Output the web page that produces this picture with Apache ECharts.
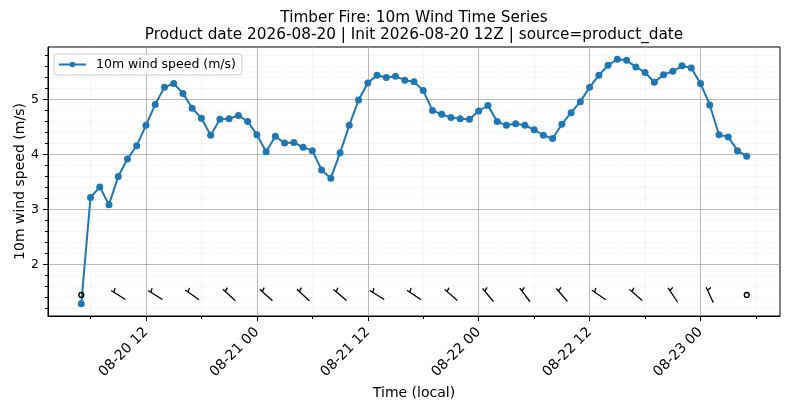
<!DOCTYPE html>
<html>
<head>
<meta charset="utf-8">
<script src="https://cdn.jsdelivr.net/npm/echarts@6/dist/echarts.min.js"></script>
<style>
  html, body { margin: 0; background: #fff; }
  #chart { width: 790px; height: 409px; }
</style>
</head>
<body>
<div id="chart"></div>
<script>
// hourly 10 m wind speed (m/s), first value at 2026-08-20 05:00 local
const firstHour = 5; // hours after 2026-08-20 00:00
const speedAug20 = [1.29, 3.22, 3.41, 3.09, 3.60, 3.92, 4.16, 4.53, 4.91, 5.22, 5.29, 5.11,
                    4.84, 4.66, 4.35, 4.64, 4.65, 4.71, 4.60];
const speedAug21 = [4.36, 4.05, 4.33, 4.21, 4.22, 4.13, 4.07, 3.72, 3.57, 4.03, 4.53, 4.99,
                    5.30, 5.44, 5.40, 5.42, 5.35, 5.32, 5.16, 4.80, 4.73, 4.67, 4.65, 4.64];
const speedAug22 = [4.79, 4.89, 4.60, 4.53, 4.56, 4.53, 4.45, 4.35, 4.29, 4.55, 4.76, 4.96,
                    5.22, 5.44, 5.62, 5.73, 5.71, 5.59, 5.49, 5.31, 5.45, 5.51, 5.61, 5.57];
const speedAug23 = [5.29, 4.90, 4.36, 4.32, 4.07, 3.97];

// wind barbs every 4 hours from the same start, direction the wind comes from (deg); null = calm
const barbStep = 4;
const barbDir = [null, 302, 302, 305, 313, 312, 313, 310, 302, 304, 311, 320, 323, 319,
                 304, 311, 326, 335, null];
const barbLevel = 1.45;

// tick values (hours after 2026-08-20 00:00 / m/s)
const xTicks = [12, 24, 36, 48, 60, 72];
const yTicks = [2, 3, 4, 5];

const xMin = 1.4, xMax = 80.6;
const yMin = 1.068, yMax = 5.952;
const legendName = '10m wind speed (m/s)';
const font = 'DejaVu Sans';

const windSpeed = speedAug20.concat(speedAug21, speedAug22, speedAug23);
const speedPoints = windSpeed.map((v, i) => [firstHour + i, v]);
const barbPoints = barbDir.map((d, i) => [firstHour + i * barbStep, barbLevel]);

function hourLabel(h) {
  const day = 20 + Math.floor(h / 24);
  const hr = h % 24;
  return '08-' + day + ' ' + String(hr).padStart(2, '0');
}

// shaft pointing where the wind comes from, one half barb set back from the end
function renderBarb(params, api) {
  const c = api.coord([api.value(0), api.value(1)]);
  const dir = barbDir[params.dataIndex];
  const style = { stroke: '#000', lineWidth: 1.3, fill: null };
  if (dir == null) {
    return {
      type: 'circle',
      shape: { cx: c[0], cy: c[1], r: 2.4 },
      style: { stroke: '#000', lineWidth: 1.4, fill: 'none' }
    };
  }
  const L = 17, rad = dir * Math.PI / 180;
  const ux = Math.sin(rad), uy = -Math.cos(rad);
  const px = -uy, py = ux;
  const tip = [c[0] - ux * L / 2, c[1] - uy * L / 2];
  const end = [c[0] + ux * L / 2, c[1] + uy * L / 2];
  const at = [tip[0] + ux * L * 0.8, tip[1] + uy * L * 0.8];
  const flag = [at[0] + px * 4.2 + ux * 1.2, at[1] + py * 4.2 + uy * 1.2];
  return {
    type: 'group',
    children: [
      { type: 'line', shape: { x1: tip[0], y1: tip[1], x2: end[0], y2: end[1] }, style },
      { type: 'line', shape: { x1: at[0], y1: at[1], x2: flag[0], y2: flag[1] }, style }
    ]
  };
}

const chart = echarts.init(document.getElementById('chart'));
chart.setOption({
  animation: false,
  textStyle: { fontFamily: font },
  title: {
    text: 'Timber Fire: 10m Wind Time Series\nProduct date 2026-08-20 | Init 2026-08-20 12Z | source=product_date',
    left: 414,
    top: 10,
    textAlign: 'center',
    padding: 0,
    textStyle: { fontFamily: font, fontSize: 15.3, fontWeight: 'normal', lineHeight: 17, color: '#000' }
  },
  legend: {
    data: [legendName],
    left: 54,
    top: 54,
    padding: [4, 6, 4, 4],
    itemWidth: 27,
    itemHeight: 7,
    borderColor: '#cccccc',
    borderWidth: 1,
    borderRadius: 3,
    backgroundColor: 'rgba(255,255,255,0.8)',
    textStyle: { fontFamily: font, fontSize: 12.5, color: '#000', padding: [0, 0, 0, 5] }
  },
  grid: {
    left: 48, right: 10, top: 47, bottom: 93,
    show: true, borderColor: '#000', borderWidth: 1, backgroundColor: 'transparent'
  },
  xAxis: {
    type: 'value',
    min: xMin, max: xMax,
    minInterval: 12, maxInterval: 12,
    name: 'Time (local)',
    nameLocation: 'middle',
    nameGap: 70,
    nameMoveOverlap: false,
    nameTextStyle: { fontFamily: font, fontSize: 14, color: '#000' },
    axisLine: { show: true, lineStyle: { color: '#000', width: 1 } },
    axisTick: { show: true, length: 5, customValues: xTicks, lineStyle: { color: '#000' } },
    minorTick: { show: true, splitNumber: 2, length: 3, lineStyle: { color: '#000' } },
    axisLabel: {
      rotate: 45, fontSize: 14, color: '#000', margin: 14,
      customValues: xTicks, formatter: hourLabel
    },
    splitLine: { show: true, lineStyle: { color: '#a8a8a8', width: 0.8 } },
    minorSplitLine: { show: true, lineStyle: { color: '#dddddd', width: 0.6, type: 'dotted' } }
  },
  yAxis: {
    type: 'value',
    min: yMin, max: yMax,
    minInterval: 1, maxInterval: 1,
    name: '10m wind speed (m/s)',
    nameLocation: 'middle',
    nameGap: 21,
    nameMoveOverlap: false,
    nameTextStyle: { fontFamily: font, fontSize: 14, color: '#000' },
    axisLine: { show: true, lineStyle: { color: '#000', width: 1 } },
    axisTick: { show: true, length: 5, customValues: yTicks, lineStyle: { color: '#000' } },
    minorTick: { show: true, splitNumber: 5, length: 3, lineStyle: { color: '#000' } },
    axisLabel: { fontSize: 12.5, color: '#000', margin: 9, customValues: yTicks },
    splitLine: { show: true, lineStyle: { color: '#a8a8a8', width: 0.8 } },
    minorSplitLine: { show: true, lineStyle: { color: '#dddddd', width: 0.6, type: 'dotted' } }
  },
  series: [
    {
      name: legendName,
      type: 'line',
      data: speedPoints,
      symbol: 'circle',
      symbolSize: 7,
      itemStyle: { color: '#1f77b4' },
      lineStyle: { color: '#1f77b4', width: 2 },
      z: 3
    },
    {
      name: 'barbs',
      type: 'custom',
      data: barbPoints,
      encode: { x: 0, y: 1 },
      renderItem: renderBarb,
      silent: true,
      z: 4
    }
  ]
});
</script>
</body>
</html>
